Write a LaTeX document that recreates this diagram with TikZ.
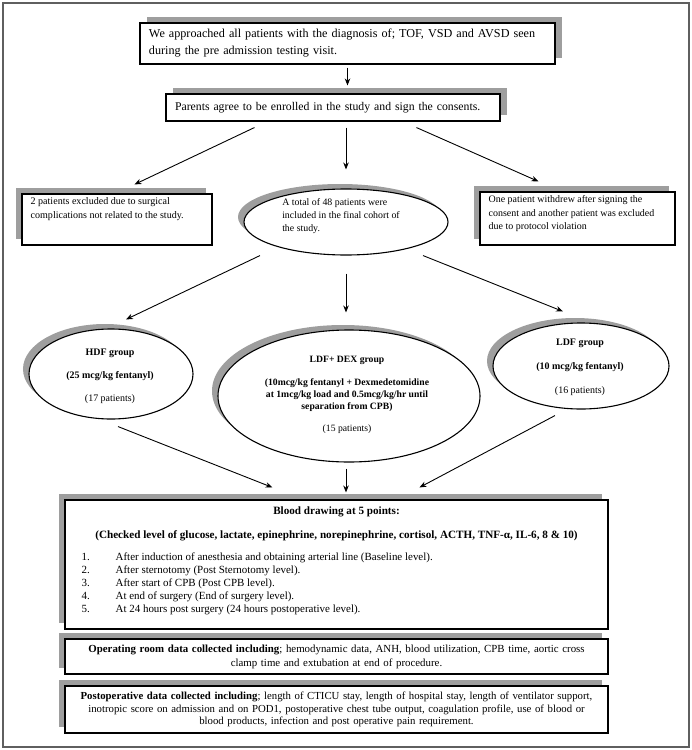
\documentclass[tikz,border=0pt]{standalone}
\usepackage{fontspec}
\setmainfont{Liberation Serif}
\usetikzlibrary{shapes.geometric,shadows,arrows.meta,positioning,calc}
\definecolor{shadowgray}{RGB}{158,158,158}
\definecolor{framegray}{RGB}{95,95,95}

\tikzset{
    box/.style={rectangle, draw, line width=1.1bp, fill=white, inner sep=0pt},
    shadowright/.style={drop shadow={shadow xshift=7bp, shadow yshift=6bp, fill=shadowgray, opacity=1}},
    shadowleft/.style={drop shadow={shadow xshift=-6bp, shadow yshift=6bp, fill=shadowgray, opacity=1}},
    ellip/.style={ellipse, draw, line width=1.1bp, fill=white, inner sep=0pt,
        drop shadow={shadow xshift=-6bp, shadow yshift=5bp, fill=shadowgray, opacity=1}},
    txt/.style={inner sep=0pt, align=left},
    arr/.style={-{Stealth[length=7bp,width=5.5bp]}, line width=0.9bp}
}

\begin{document}
\begin{tikzpicture}[x=1bp,y=-1bp]
    \useasboundingbox (0,0) rectangle (692,750);
    \draw[framegray, line width=1.3bp] (3,3) rectangle (689,747);

    % enrolment
    \node[box, shadowright, minimum width=415bp, minimum height=41bp, text width=397bp, align=left,
        font=\fontsize{12.2}{17}\selectfont] (approach) at (347.5,43.5)
        {We approached all patients with the diagnosis of; TOF, VSD and AVSD seen\\during the pre admission testing visit.};
    \node[box, shadowright, minimum width=334bp, minimum height=27bp, text width=316bp, align=left,
        font=\fontsize{11.8}{14}\selectfont] (consent) at (333,107.5)
        {Parents agree to be enrolled in the study and sign the consents.};

    \node[box, shadowleft, minimum width=190bp, minimum height=51bp] (excl) at (117,219.5) {};
    \node[txt, anchor=north west, font=\fontsize{10.1}{14}\selectfont] (excltext) at ([xshift=9bp,yshift=-4bp]excl.north west)
        {2 patients excluded due to surgical\\complications not related to the study.};
    \node[box, shadowleft, minimum width=195bp, minimum height=53bp] (withdrew) at (577.5,218.5) {};
    \node[txt, anchor=north west, font=\fontsize{10}{13.5}\selectfont] (withdrewtext) at ([xshift=9bp,yshift=-4bp]withdrew.north west)
        {One patient withdrew after signing the\\consent and another patient was excluded\\due to protocol violation};

    \node[ellip, minimum width=204bp, minimum height=66bp] (cohort) at (346,222) {};
    \node[txt, font=\fontsize{9.9}{13}\selectfont] (cohorttext) at (341,216)
        {A total of 48 patients were\\included in the final cohort of\\the study.};

    % groups
    \node[ellip, minimum width=164bp, minimum height=90bp] (hdf) at (111,374) {};
    \node[txt, align=center, font=\fontsize{10}{11}\selectfont] (hdftext) at (110,376)
        {\textbf{HDF group}\\[12bp]\textbf{(25 mcg/kg fentanyl)}\\[12bp](17 patients)};
    \node[ellip, minimum width=262bp, minimum height=132bp] (dex) at (349,396) {};
    \node[txt, align=center, font=\fontsize{9.7}{12}\selectfont] (dextext) at (347,395)
        {\textbf{LDF+ DEX group}\\[11bp]\textbf{(10mcg/kg fentanyl + Dexmedetomidine}\\
        \textbf{at 1mcg/kg load and 0.5mcg/kg/hr until}\\\textbf{separation from CPB)}\\[10bp](15 patients)};
    \node[ellip, minimum width=176bp, minimum height=86bp] (ldf) at (581,366) {};
    \node[txt, align=center, font=\fontsize{10}{11}\selectfont] (ldftext) at (580,367)
        {\textbf{LDF group}\\[13bp]\textbf{(10 mcg/kg fentanyl)}\\[13bp](16 patients)};

    % sampling and data
    \node[box, shadowleft, minimum width=543bp, minimum height=129bp] (blood) at (336.5,564.5) {};
    \node[txt, font=\fontsize{11.2}{13}\selectfont\bfseries] (bloodtitle) at ([yshift=-12bp]blood.north)
        {Blood drawing at 5 points:};
    \node[txt, font=\fontsize{11.2}{13}\selectfont\bfseries] (bloodcheck) at ([yshift=-36bp]blood.north)
        {(Checked level of glucose, lactate, epinephrine, norepinephrine, cortisol, ACTH, TNF-α, IL-6, 8 \& 10)};
    \node[txt, anchor=north west, font=\fontsize{11}{13.2}\selectfont] (bloodlist) at ([xshift=17bp,yshift=-53bp]blood.north west)
        {\makebox[34bp][l]{1.}After induction of anesthesia and obtaining arterial line (Baseline level).\\
        \makebox[34bp][l]{2.}After sternotomy (Post Sternotomy level).\\
        \makebox[34bp][l]{3.}After start of CPB (Post CPB level).\\
        \makebox[34bp][l]{4.}At end of surgery (End of surgery level).\\
        \makebox[34bp][l]{5.}At 24 hours post surgery (24 hours postoperative level).};

    \node[box, shadowleft, minimum width=543bp, minimum height=35bp, text width=530bp, align=center,
        font=\fontsize{10.9}{14}\selectfont] (oroom) at (336.5,656.5)
        {\textbf{Operating room data collected including}; hemodynamic data, ANH, blood utilization, CPB time, aortic cross\\clamp time and extubation at end of procedure.};
    \node[box, shadowleft, minimum width=543bp, minimum height=47bp, text width=530bp, align=center,
        font=\fontsize{10.8}{12.7}\selectfont] (postop) at (336.5,709.5)
        {\textbf{Postoperative data collected including}; length of CTICU stay, length of hospital stay, length of ventilator support,\\
        inotropic score on admission and on POD1, postoperative chest tube output, coagulation profile, use of blood or\\
        blood products, infection and post operative pain requirement.};

    \draw[arr] ([yshift=-3bp]approach.south) -- ([yshift=8bp]approach.south |- consent.north);
    \draw[arr] ([xshift=89bp,yshift=-6bp]consent.south west) -- ([xshift=113bp,yshift=9bp]excl.north west);
    \draw[arr] ([yshift=-6bp]cohort.north |- consent.south) -- ([yshift=19bp]cohort.north);
    \draw[arr] ([xshift=251bp,yshift=-6bp]consent.south west) -- ([xshift=59bp,yshift=10bp]withdrew.north west);

    \draw[arr] ([xshift=-86bp]cohort.south) -- ([xshift=15bp,yshift=9bp]hdf.north);
    \draw[arr] ([yshift=-18bp]cohort.south) -- ([yshift=17bp]cohort.south |- dex.north);
    \draw[arr] ([xshift=77bp]cohort.south) -- ([xshift=-18bp,yshift=11bp]ldf.north);

    \draw[arr] ([xshift=7bp,yshift=-7bp]hdf.south) -- ([xshift=208bp,yshift=12bp]blood.north west);
    \draw[arr] ([yshift=-6bp]cohort.south |- dex.south) -- ([yshift=7bp]cohort.south |- blood.north);
    \draw[arr] ([xshift=-26bp,yshift=-6bp]ldf.south) -- ([xshift=355bp,yshift=12bp]blood.north west);
\end{tikzpicture}
\end{document}
